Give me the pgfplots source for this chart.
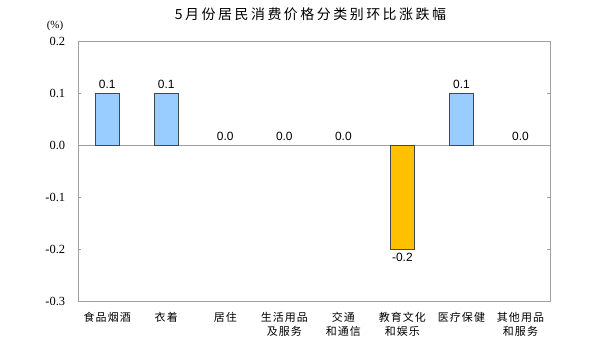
\documentclass[border=0pt]{standalone}
\usepackage{fontspec}
\setmainfont{Liberation Sans}
\newfontfamily\cjk{Noto Sans CJK SC}
\newfontfamily\cjklabel[LetterSpace=10]{Noto Sans CJK SC}
\newfontfamily\cjktitle[LetterSpace=18]{Noto Sans CJK SC}
\newfontfamily\serifnum{Liberation Serif}
\usepackage{pgfplots}
\pgfplotsset{compat=1.18}
\definecolor{barblue}{HTML}{99CCFF}
\definecolor{barorange}{HTML}{FFC000}
\definecolor{framegray}{HTML}{A0A0A0}
\definecolor{bardraw}{HTML}{404850}
\begin{document}
\begin{tikzpicture}
\useasboundingbox (0,0) rectangle (591bp,357bp);
\begin{axis}[
  at={(77.7bp,56bp)}, anchor=south west,
  scale only axis, width=472.3bp, height=260bp,
  xmin=-0.5, xmax=7.5, ymin=-0.3, ymax=0.2,
  xtick={0,...,7},
  xticklabels={食品烟酒, 衣着, 居住, 生活用品\\及服务, 交通\\和通信, 教育文化\\和娱乐, 医疗保健, 其他用品\\和服务},
  xticklabel style={font=\cjklabel\fontsize{11}{13.5}\selectfont, align=center, yshift=-5bp, anchor=north},
  major x tick style={draw=none},
  ytick={-0.3,-0.2,-0.1,0,0.1,0.2},
  yticklabels={-0.3,-0.2,-0.1,0.0,0.1,0.2},
  yticklabel style={font=\serifnum\fontsize{12.5}{14}\selectfont, xshift=-9bp},
  tick align=inside, major tick length=3bp,
  axis line style={framegray},
  ytick style={framegray},
  extra y ticks={0}, extra y tick labels={},
  extra y tick style={grid=major, major grid style={framegray, line width=0.8pt}, major tick length=0pt},
  ybar, bar width=24bp, bar shift=0pt,
  point meta=explicit symbolic,
  nodes near coords,
  every node near coord/.append style={font=\fontsize{12}{14}\selectfont, text=black, inner ysep=4bp},
  clip=false,
]
\addplot[fill=barblue, draw=bardraw, line width=0.6pt] coordinates {(0,0.1)[0.1] (1,0.1)[0.1] (6,0.1)[0.1]};
\addplot[fill=barorange, draw=bardraw, line width=0.6pt,
  every node near coord/.append style={anchor=north}] coordinates {(5,-0.2)[-0.2]};
\addplot[fill=none, draw=none] coordinates {(2,0)[0.0] (3,0)[0.0] (4,0)[0.0] (7,0)[0.0]};
\end{axis}
\node at (310.5bp,343bp) {\cjktitle\fontsize{14}{16}\selectfont 5月份居民消费价格分类别环比涨跌幅};
\node at (55bp,331bp) {\serifnum\fontsize{11}{13}\selectfont (\%)};
\end{tikzpicture}
\end{document}
